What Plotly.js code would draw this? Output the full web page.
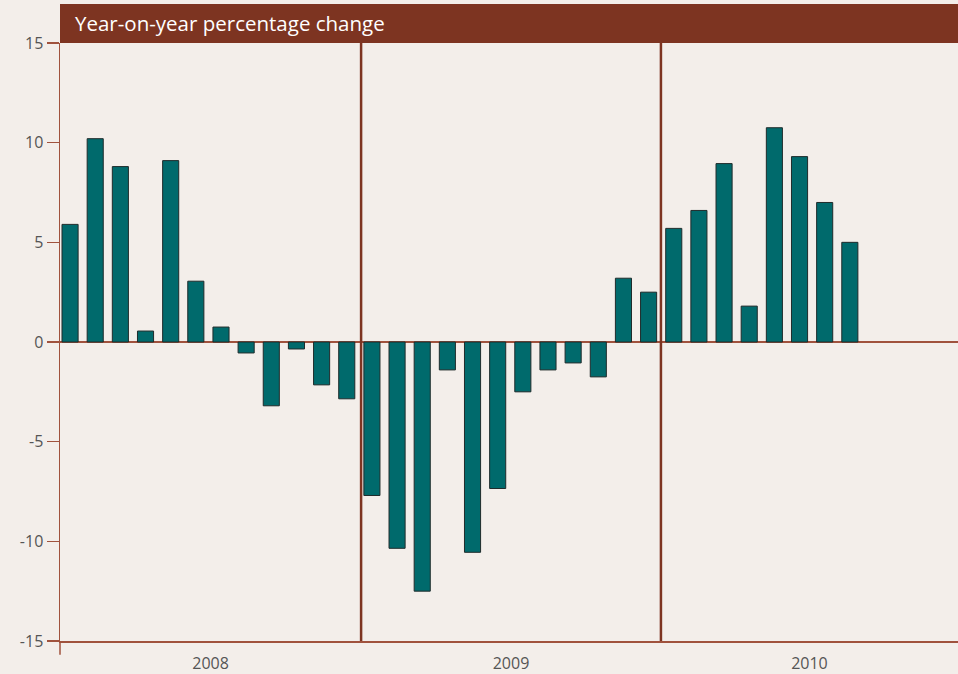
<!DOCTYPE html>
<html>
<head>
<meta charset="utf-8">
<script src="https://cdn.plot.ly/plotly-3.0.1.min.js"></script>
<style>
  html, body { margin: 0; padding: 0; background: #f3eeea; }
  #chart { width: 958px; height: 674px; }
</style>
</head>
<body>
<div id="chart"></div>
<script>
// Monthly data, Jan 2008 – Aug 2010
const months = [
  "Jan 2008","Feb 2008","Mar 2008","Apr 2008","May 2008","Jun 2008",
  "Jul 2008","Aug 2008","Sep 2008","Oct 2008","Nov 2008","Dec 2008",
  "Jan 2009","Feb 2009","Mar 2009","Apr 2009","May 2009","Jun 2009",
  "Jul 2009","Aug 2009","Sep 2009","Oct 2009","Nov 2009","Dec 2009",
  "Jan 2010","Feb 2010","Mar 2010","Apr 2010","May 2010","Jun 2010",
  "Jul 2010","Aug 2010"
];
const values2008 = [5.9, 10.2, 8.8, 0.55, 9.1, 3.05, 0.75, -0.55, -3.2, -0.35, -2.15, -2.85];
const values2009 = [-7.7, -10.35, -12.5, -1.4, -10.55, -7.35, -2.5, -1.4, -1.05, -1.75, 3.2, 2.5];
const values2010 = [5.7, 6.6, 8.95, 1.8, 10.75, 9.3, 7.0, 5.0];
const years = ["2008", "2009", "2010"];
const yTicks = [15, 10, 5, 0, -5, -10, -15];
const titleText = "Year-on-year percentage change";

const values = values2008.concat(values2009, values2010);
const xIdx = values.map((_, i) => i);

const brown = "#7d3421";
const axisBrown = "#a0523d";
const bg = "#f3eeea";

const xRange = [-0.4, 35.3];
const dividers = [11.57, 23.49];
// year label positions: centre of each year block
const edges = [xRange[0]].concat(dividers, [xRange[1]]);
const yearPos = years.map((_, k) => (edges[k] + edges[k + 1]) / 2);

const trace = {
  type: "bar",
  x: xIdx,
  y: values,
  hovertext: months,
  hoverinfo: "text+y",
  textposition: "none",
  width: 0.64,
  marker: { color: "#006a6c", line: { color: "#1f2b2b", width: 1 } }
};

const shapes = [
  // title banner
  { type: "rect", xref: "paper", yref: "paper", x0: 0, x1: 1, y0: 1, y1: 1 + 39/598,
    fillcolor: brown, line: { width: 0 }, layer: "above" },
  // y axis extension below plot
  { type: "line", xref: "paper", yref: "paper", x0: 0, x1: 0, y0: -0.023, y1: 0,
    line: { color: axisBrown, width: 1.5 } }
].concat(dividers.map(d => ({
  type: "line", xref: "x", yref: "paper", x0: d, x1: d, y0: 0, y1: 1,
  line: { color: brown, width: 2.5 }, layer: "above"
})));

const layout = {
  width: 958, height: 674,
  margin: { l: 60, r: 0, t: 43, b: 33 },
  paper_bgcolor: bg, plot_bgcolor: bg,
  font: { family: "Open Sans, sans-serif", color: "#555555", size: 16 },
  showlegend: false,
  bargap: 0,
  xaxis: {
    range: xRange,
    tickvals: yearPos, ticktext: years,
    ticks: "", showgrid: false, zeroline: false,
    showline: true, linecolor: axisBrown, linewidth: 1.5,
    tickfont: { size: 16, color: "#555555" },
    ticklabelstandoff: 7,
    fixedrange: true
  },
  yaxis: {
    range: [-15, 15],
    tickvals: yTicks, ticktext: yTicks.map(String),
    ticks: "outside", ticklen: 12, tickcolor: axisBrown, tickwidth: 1.5,
    showgrid: false,
    zeroline: true, zerolinecolor: axisBrown, zerolinewidth: 1.5,
    showline: true, linecolor: axisBrown, linewidth: 1.5,
    tickfont: { size: 16, color: "#555555" },
    fixedrange: true
  },
  shapes: shapes,
  annotations: [{
    text: titleText, xref: "paper", yref: "paper", x: 0, y: 1,
    xanchor: "left", yanchor: "bottom", xshift: 13, yshift: 4, showarrow: false,
    font: { family: "Open Sans, sans-serif", size: 20.5, color: "#ffffff" }
  }]
};

Plotly.newPlot("chart", [trace], layout, { displayModeBar: false, staticPlot: true });
</script>
</body>
</html>
